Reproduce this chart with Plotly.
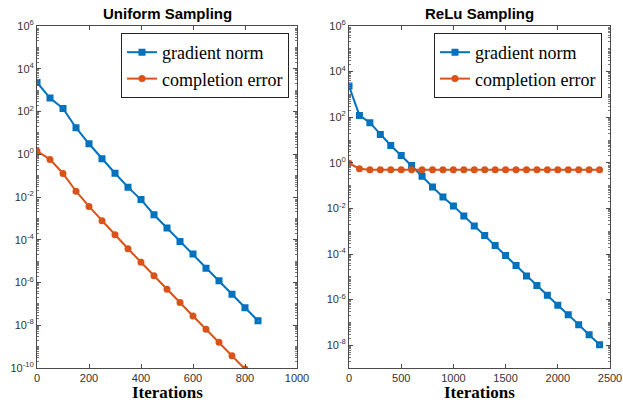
import plotly.graph_objects as go

# ---- data ----
uni_grad_x = [0, 50, 100, 150, 200, 250, 300, 350, 400, 450, 500, 550, 600, 650, 700, 750, 800, 850]
uni_grad_log = [3.36, 2.63, 2.14, 1.24, 0.49, -0.21, -0.89, -1.54, -2.12, -2.83, -3.45, -4.08,
                -4.67, -5.33, -5.92, -6.55, -7.18, -7.79]
uni_err_x = [0, 50, 100, 150, 200, 250, 300, 350, 400, 450, 500, 550, 600, 650, 700, 750, 800]
uni_err_log = [0.15, -0.24, -0.90, -1.73, -2.44, -3.11, -3.77, -4.42, -5.05, -5.69, -6.31,
               -6.94, -7.57, -8.19, -8.80, -9.43, -10.05]

relu_x = [0, 100, 200, 300, 400, 500, 600, 700, 800, 900, 1000, 1100, 1200, 1300, 1400,
          1500, 1600, 1700, 1800, 1900, 2000, 2100, 2200, 2300, 2400]
relu_grad_log = [3.37, 2.08, 1.76, 1.24, 0.76, 0.32, -0.12, -0.59, -1.06, -1.50, -1.89, -2.33,
                 -2.77, -3.19, -3.63, -4.07, -4.50, -4.96, -5.38, -5.81, -6.25, -6.66, -7.10,
                 -7.54, -7.98]
relu_err_log = [-0.02, -0.26] + [-0.30] * 23

series_names = ["gradient norm", "completion error"]
titles = ["Uniform Sampling", "ReLu Sampling"]
x_label = "Iterations"
uni_y_exponents = [6, 4, 2, 0, -2, -4, -6, -8, -10]
relu_y_exponents = [6, 4, 2, 0, -2, -4, -6, -8]
uni_x_ticks = [0, 200, 400, 600, 800, 1000]
relu_x_ticks = [0, 500, 1000, 1500, 2000, 2500]

BLUE = "#0072BD"
ORANGE = "#D95319"

uni_grad = [10 ** v for v in uni_grad_log]
uni_err = [10 ** v for v in uni_err_log]
relu_grad = [10 ** v for v in relu_grad_log]
relu_err = [10 ** v for v in relu_err_log]

fig = go.Figure()

def add(x, y, name, color, symbol, xa, ya, legend):
    fig.add_trace(go.Scatter(
        x=x, y=y, name=name, mode="lines+markers",
        line=dict(color=color, width=2),
        marker=dict(symbol=symbol, size=4, color=color, line=dict(color=color, width=3)),
        xaxis=xa, yaxis=ya, legend=legend))

add(uni_grad_x, uni_grad, series_names[0], BLUE, "square-open", "x", "y", "legend")
add(uni_err_x, uni_err, series_names[1], ORANGE, "circle-open", "x", "y", "legend")
add(relu_x, relu_grad, series_names[0], BLUE, "square-open", "x2", "y2", "legend2")
add(relu_x, relu_err, series_names[1], ORANGE, "circle-open", "x2", "y2", "legend2")

W, H = 623, 402
AX = "#4a4a4a"
SANS = "Liberation Sans, Arial, sans-serif"
SERIF = "Liberation Serif, Times New Roman, serif"
tickfont = dict(family=SANS, size=11, color="#333333")

def xaxis(domain, rng, ticks, anchor):
    return dict(domain=domain, range=rng, tickmode="array", tickvals=ticks,
                ticktext=[str(t) for t in ticks], anchor=anchor, automargin=False,
                showline=True, linecolor=AX, linewidth=1, mirror="ticks",
                ticks="inside", ticklen=4, tickcolor=AX, showgrid=False, zeroline=False,
                tickfont=tickfont)

def yaxis(domain, rng, exps, anchor):
    minor_vals = [m * 10 ** e for e in range(int(rng[0]), int(rng[1]))
                  for m in (1, 2, 3, 4, 5, 6, 7, 8, 9)]
    return dict(domain=domain, type="log", range=rng, anchor=anchor, automargin=False,
                tickmode="array", tickvals=[10 ** e for e in exps],
                ticktext=["10<sup>%d</sup>" % e for e in exps],
                showline=True, linecolor=AX, linewidth=1, mirror="ticks",
                ticks="inside", ticklen=4, tickcolor=AX, showgrid=False, zeroline=False,
                tickfont=tickfont,
                minor=dict(ticks="inside", ticklen=2, tickcolor="#777", showgrid=False,
                           tickmode="array", tickvals=minor_vals))

yd = [34 / H, 376 / H]
fig.update_layout(
    width=W, height=H, margin=dict(l=0, r=0, t=0, b=0),
    plot_bgcolor="white", paper_bgcolor="white",
    font=dict(family=SERIF),
    xaxis=xaxis([37 / W, 297 / W], [0, 1000], uni_x_ticks, "y"),
    yaxis=yaxis(yd, [-10, 6], uni_y_exponents, "x"),
    xaxis2=xaxis([349 / W, 610 / W], [0, 2500], relu_x_ticks, "y2"),
    yaxis2=yaxis(yd, [-9, 6], relu_y_exponents, "x2"),
)

def legend_cfg(xr):
    return dict(
        x=xr, y=(H - 33) / H, yanchor="top", xanchor="right",
        bgcolor="white", bordercolor="#222", borderwidth=1,
        font=dict(family=SERIF, size=18, color="black"),
        tracegroupgap=0, itemwidth=30,
    )

fig.update_layout(legend=legend_cfg(289 / W), legend2=legend_cfg(602 / W))

for t, cx in zip(titles, [167, 479.5]):
    fig.add_annotation(text="<b>%s</b>" % t, x=cx / W, y=1 - 14 / H, xref="paper", yref="paper",
                       showarrow=False, xanchor="center", yanchor="middle",
                       font=dict(family=SANS, size=15, color="black"))
for cx in [167, 479.5]:
    fig.add_annotation(text="<b>%s</b>" % x_label, x=cx / W, y=1 - 392 / H, xref="paper", yref="paper",
                       showarrow=False, xanchor="center", yanchor="middle",
                       font=dict(family=SERIF, size=17, color="black"))

fig.write_html("out.html", config={"displayModeBar": False},
               post_script="document.body.style.margin='0';document.body.style.overflow='hidden';")
